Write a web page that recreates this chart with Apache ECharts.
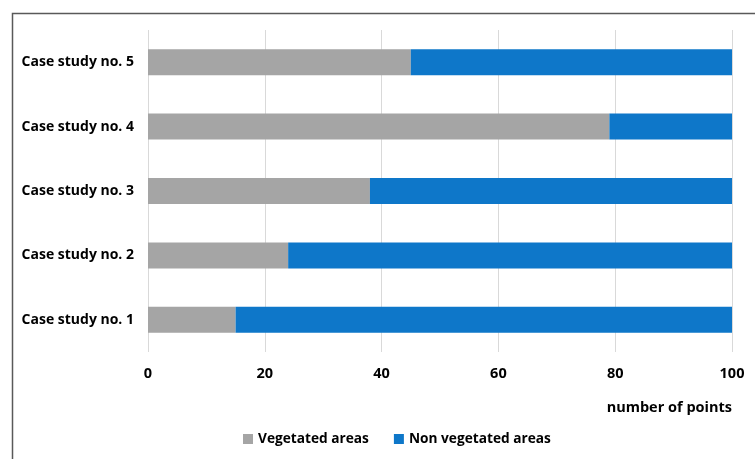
<!DOCTYPE html>
<html>
<head>
<meta charset="utf-8">
<script src="https://cdn.jsdelivr.net/npm/echarts@6/dist/echarts.min.js"></script>
<style>
  html, body { margin: 0; padding: 0; background: #fff; }
  #chart { width: 755px; height: 459px; }
</style>
</head>
<body>
<div id="chart"></div>
<script>
// Case studies, bottom to top
const categories = ['Case study no. 1', 'Case study no. 2', 'Case study no. 3', 'Case study no. 4', 'Case study no. 5'];
const vegetated = [15, 24, 38, 79, 45];
const nonVegetated = [85, 76, 62, 21, 55];
const xTicks = [0, 20, 40, 60, 80, 100];

const FONT = '"Open Sans", "Noto Sans", sans-serif';
const chart = echarts.init(document.getElementById('chart'), null, { renderer: 'canvas' });

chart.setOption({
  animation: false,
  backgroundColor: '#ffffff',
  grid: { left: 148, right: 23, top: 30, bottom: 107, containLabel: false },
  legend: {
    bottom: 8,
    left: 238,
    itemWidth: 10,
    itemHeight: 10,
    itemGap: 25,
    icon: 'rect',
    textStyle: { fontFamily: FONT, fontWeight: 'bold', fontSize: 13.7, color: '#000' },
    data: ['Vegetated areas', 'Non vegetated areas']
  },
  xAxis: {
    type: 'value',
    min: xTicks[0],
    max: xTicks[xTicks.length - 1],
    interval: 20,
    axisLine: { show: false },
    axisTick: { show: false },
    splitLine: { show: true, lineStyle: { color: '#d9d9d9', width: 1 } },
    axisLabel: { margin: 14, fontFamily: FONT, fontWeight: 'bold', fontSize: 14.5, color: '#000' }
  },
  yAxis: {
    type: 'category',
    data: categories,
    axisLine: { show: false },
    axisTick: { show: false },
    axisLabel: { margin: 14, fontFamily: FONT, fontWeight: 'bold', fontSize: 14, color: '#000' }
  },
  series: [
    {
      name: 'Vegetated areas',
      type: 'bar',
      stack: 'total',
      barWidth: 26,
      itemStyle: { color: '#a5a5a5' },
      data: vegetated
    },
    {
      name: 'Non vegetated areas',
      type: 'bar',
      stack: 'total',
      barWidth: 26,
      itemStyle: { color: '#0e77c9' },
      data: nonVegetated
    }
  ],
  graphic: [
    {
      type: 'rect',
      silent: true,
      shape: { x: 12.5, y: 13.5, width: 800, height: 500 },
      style: { fill: null, stroke: '#595959', lineWidth: 1.5 }
    },
    {
      type: 'text',
      right: 23,
      top: 400,
      style: { text: 'number of points', font: 'bold 14.5px ' + FONT, fill: '#000' }
    }
  ]
});
</script>
</body>
</html>
